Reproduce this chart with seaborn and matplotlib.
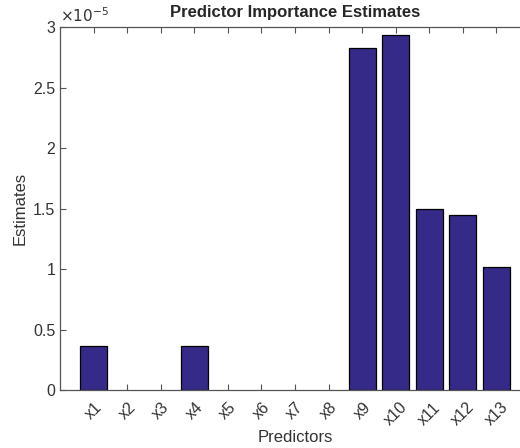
import matplotlib
matplotlib.use("Agg")
import matplotlib.pyplot as plt
import seaborn as sns
import pandas as pd
from matplotlib.ticker import FuncFormatter

predictors = ['x1', 'x2', 'x3', 'x4', 'x5', 'x6', 'x7', 'x8', 'x9', 'x10', 'x11', 'x12', 'x13']
estimates = [0.365e-5, 0, 0, 0.365e-5, 0, 0, 0, 0, 2.83e-5, 2.935e-5, 1.50e-5, 1.445e-5, 1.02e-5]

df = pd.DataFrame({'Predictors': predictors, 'Estimates': estimates})

sns.set_style("white")
plt.rcParams['font.family'] = ['Liberation Sans', 'DejaVu Sans']

fig = plt.figure(figsize=(5.2, 4.48), dpi=100)
ax = fig.add_axes([60 / 520, 58 / 448, 470 / 520, 363 / 448])

sns.barplot(data=df, x='Predictors', y='Estimates', color='#352A87', saturation=1,
            edgecolor='black', linewidth=0.9, width=0.8, ax=ax)

# zero-height bars should not leave an edge line on the baseline
for patch in ax.patches:
    if patch.get_height() == 0:
        patch.set_linewidth(0)

ax.set_xlim(-1, 13)
ax.set_ylim(0, 3e-5)
ax.set_yticks([0, 0.5e-5, 1e-5, 1.5e-5, 2e-5, 2.5e-5, 3e-5])
ax.yaxis.set_major_formatter(FuncFormatter(lambda v, p: f"{v / 1e-5:g}"))

for s in ['left', 'top', 'bottom']:
    ax.spines[s].set_color('#555555')
    ax.spines[s].set_linewidth(0.9)
ax.spines['right'].set_visible(False)
ax.tick_params(axis='both', direction='in', length=4, width=0.8, color='#555555',
               labelsize=11.5, labelcolor='#333333', top=True, left=True, bottom=True)
ax.tick_params(axis='x', pad=7)
plt.setp(ax.get_xticklabels(), rotation=45, ha='center')

ax.set_xlabel('Predictors', fontsize=12, color='#333333', labelpad=1)
ax.set_ylabel('Estimates', fontsize=12, color='#333333', labelpad=4)
ax.set_title('Predictor Importance Estimates', fontsize=12, fontweight='bold', pad=7)
ax.text(0.0, 1.005, r'$\times 10^{-5}$', transform=ax.transAxes, fontsize=11,
        color='#333333', ha='left', va='bottom', family='DejaVu Sans')

fig.savefig('out.png', dpi=100)
